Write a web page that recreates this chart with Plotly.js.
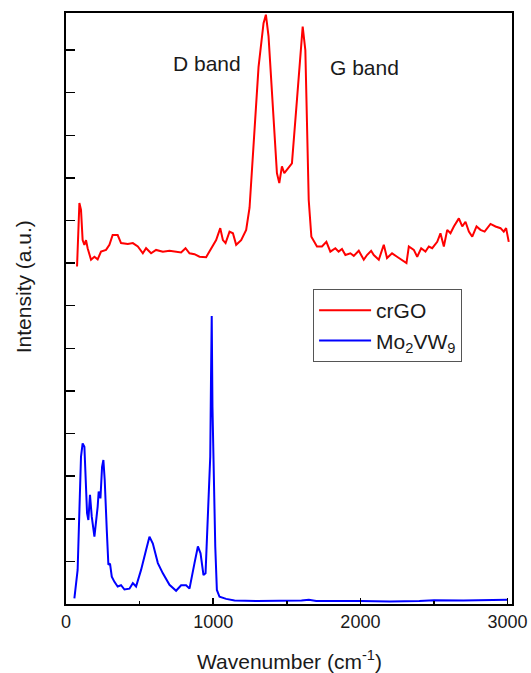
<!DOCTYPE html>
<html>
<head>
<meta charset="utf-8">
<script src="https://cdn.plot.ly/plotly-3.0.1.min.js"></script>
<style>html,body{margin:0;padding:0;background:#fff;}#chart{width:531px;height:673px;}</style>
</head>
<body>
<div id="chart"></div>
<script>
// Wavenumbers (cm^-1) and intensities (arbitrary units)
const crgoX = [75, 91, 102, 113, 125, 136, 147, 170, 193, 215, 238, 272, 295, 317, 351, 374, 420, 454, 488, 522, 544, 578, 612, 658, 703, 748, 782, 812, 839, 873, 907, 952, 975, 1005, 1020, 1048, 1066, 1084, 1111, 1134, 1156, 1190, 1224, 1247, 1265, 1285, 1308, 1342, 1358, 1376, 1410, 1433, 1449, 1467, 1483, 1535, 1569, 1608, 1626, 1649, 1667, 1705, 1739, 1769, 1796, 1830, 1852, 1875, 1898, 1932, 1955, 1989, 2023, 2045, 2073, 2091, 2125, 2159, 2181, 2215, 2249, 2283, 2313, 2329, 2363, 2386, 2413, 2442, 2465, 2488, 2522, 2544, 2567, 2590, 2612, 2635, 2669, 2692, 2714, 2737, 2760, 2789, 2816, 2844, 2884, 2918, 2952, 2974, 2990, 3008];
const crgoY = [7.92, 9.41, 9.25, 8.54, 8.43, 8.54, 8.35, 8.08, 8.15, 8.09, 8.27, 8.31, 8.43, 8.66, 8.66, 8.47, 8.45, 8.47, 8.39, 8.23, 8.35, 8.23, 8.31, 8.27, 8.29, 8.27, 8.25, 8.35, 8.23, 8.21, 8.15, 8.14, 8.27, 8.47, 8.54, 8.82, 8.54, 8.47, 8.74, 8.7, 8.43, 8.54, 8.78, 9.3, 10.3, 11.6, 12.6, 13.63, 13.83, 13.32, 11.44, 10.11, 9.88, 10.27, 10.11, 10.34, 11.83, 13.55, 13.0, 9.48, 8.62, 8.39, 8.39, 8.5, 8.27, 8.35, 8.27, 8.33, 8.19, 8.23, 8.17, 8.29, 8.08, 8.19, 8.29, 8.19, 8.08, 8.43, 8.12, 8.23, 8.15, 8.08, 8.0, 8.39, 8.31, 8.15, 8.35, 8.27, 8.39, 8.35, 8.5, 8.7, 8.39, 8.78, 8.7, 8.86, 9.05, 8.86, 8.97, 8.74, 8.62, 8.86, 8.78, 8.74, 8.92, 8.86, 8.82, 8.74, 8.82, 8.5];

const movwX = [57, 79, 102, 113, 125, 136, 143, 152, 163, 175, 193, 215, 222, 234, 245, 254, 263, 277, 288, 299, 311, 329, 351, 374, 397, 431, 454, 476, 510, 544, 567, 590, 624, 658, 703, 748, 782, 816, 839, 873, 896, 914, 934, 948, 964, 980, 985, 990, 995, 1002, 1014, 1025, 1043, 1088, 1145, 1300, 1600, 1650, 1700, 2000, 2200, 2400, 2500, 2700, 2900, 3000];
const movwY = [0.13, 0.8, 3.46, 3.77, 3.69, 2.91, 2.13, 1.97, 2.56, 2.05, 1.58, 2.28, 2.64, 2.48, 3.22, 3.38, 2.91, 1.74, 0.92, 0.95, 0.64, 0.52, 0.41, 0.44, 0.34, 0.36, 0.49, 0.41, 0.8, 1.27, 1.58, 1.42, 0.96, 0.72, 0.45, 0.31, 0.44, 0.44, 0.36, 0.96, 1.35, 1.19, 0.68, 0.72, 2.13, 3.46, 5.26, 6.76, 4.63, 3.0, 1.35, 0.33, 0.17, 0.12, 0.08, 0.07, 0.08, 0.1, 0.07, 0.07, 0.06, 0.07, 0.09, 0.08, 0.09, 0.1];

const seriesNames = ['crGO', 'Mo<sub>2</sub>VW<sub>9</sub>'];
const xTickVals = [0, 1000, 2000, 3000];
const xTickText = ['0', '1000', '2000', '3000'];

const FONT = 'Liberation Sans, Arial, sans-serif';
const TXT = '#1a1a1a';

const traces = [
  {x: crgoX, y: crgoY, name: seriesNames[0], type: 'scatter', mode: 'lines',
   line: {color: '#ff0000', width: 2}},
  {x: movwX, y: movwY, name: seriesNames[1], type: 'scatter', mode: 'lines',
   line: {color: '#0000ff', width: 2}}
];

const layout = {
  width: 531, height: 673,
  margin: {l: 66, r: 19, t: 13, b: 69},
  paper_bgcolor: '#fff', plot_bgcolor: '#fff',
  font: {family: FONT, color: TXT, size: 18},
  showlegend: true,
  legend: {x: 0.554, y: 0.533, xanchor: 'left', yanchor: 'top',
           bordercolor: '#555', borderwidth: 1, bgcolor: '#fff',
           itemwidth: 52,
           font: {family: FONT, size: 21, color: TXT}, tracegroupgap: 0},
  xaxis: {range: [0, 3030], tickvals: xTickVals, ticktext: xTickText,
          ticks: 'inside', ticklen: 6, tickwidth: 1.5, tickcolor: '#000',
          minor: {tickvals: [500, 1500, 2500], ticks: 'inside', ticklen: 3, tickwidth: 1.5, tickcolor: '#000'},
          showline: true, linewidth: 2, linecolor: '#000', mirror: true,
          showgrid: false, zeroline: false,
          tickfont: {family: FONT, size: 18, color: TXT}},
  yaxis: {range: [0, 13.87], dtick: 1, tick0: 0,
          ticks: 'inside', ticklen: 9, tickwidth: 1.5, tickcolor: '#000',
          showticklabels: false,
          showline: true, linewidth: 2, linecolor: '#000', mirror: true,
          showgrid: false, zeroline: false},
  annotations: [
    {text: 'Wavenumber (cm<sup>-1</sup>)', xref: 'paper', yref: 'paper', x: 0.5, y: -0.095,
     xanchor: 'center', yanchor: 'middle', showarrow: false, font: {family: FONT, size: 21, color: TXT}},
    {text: 'Intensity (a.u.)', xref: 'paper', yref: 'paper', x: -0.0964, y: 0.536, textangle: -90,
     xanchor: 'center', yanchor: 'middle', showarrow: false, font: {family: FONT, size: 21, color: TXT}},
    {text: 'D band', xref: 'x', yref: 'y', x: 959, y: 12.68, xanchor: 'center', yanchor: 'middle',
     showarrow: false, font: {family: FONT, size: 21, color: TXT}},
    {text: 'G band', xref: 'x', yref: 'y', x: 2031, y: 12.58, xanchor: 'center', yanchor: 'middle',
     showarrow: false, font: {family: FONT, size: 21, color: TXT}}
  ]
};

Plotly.newPlot('chart', traces, layout, {displayModeBar: false, staticPlot: true});
</script>
</body>
</html>
